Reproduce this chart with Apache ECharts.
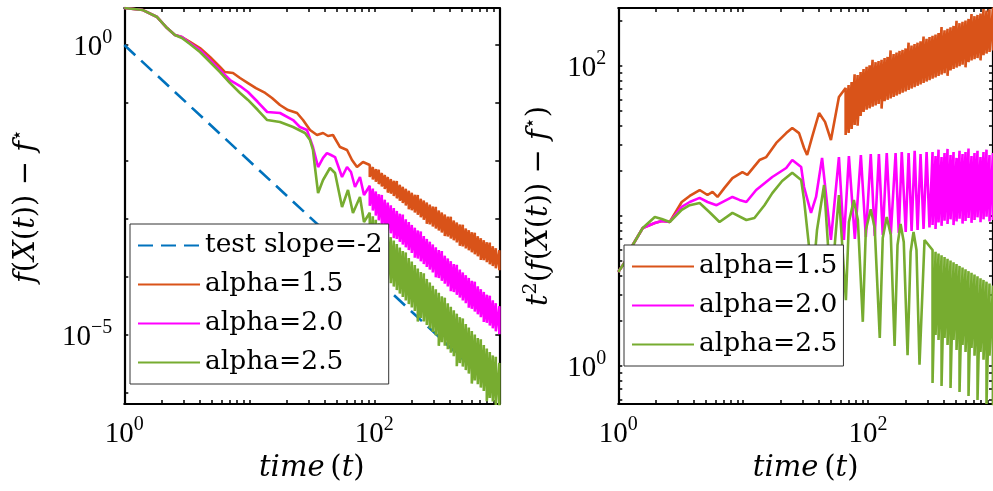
<!DOCTYPE html>
<html>
<head>
<meta charset="utf-8">
<script src="https://cdn.jsdelivr.net/npm/echarts@6/dist/echarts.min.js"></script>
<style>
  html, body { margin: 0; padding: 0; background: #fff; }
  #chart { width: 993px; height: 491px; }
</style>
</head>
<body>
<div id="chart"></div>
<script>
// ---- data -------------------------------------------------------------
// time grid for the fast-oscillating part; at each time the curve is stored
// as the highest and lowest value reached around that instant
const timeTail = [66.1, 69.8, 73.8, 78.0, 82.4, 87.1, 92.0, 97.3, 102.8, 108.6,
  114.8, 121.3, 128.2, 135.5, 143.2, 151.4, 160.0, 169.0, 178.6, 188.8,
  199.5, 210.9, 222.8, 235.5, 248.9, 263.0, 278.0, 293.8, 310.5, 328.1,
  346.7, 366.4, 387.3, 409.3, 432.5, 457.1, 483.1, 510.5, 539.5, 570.2,
  602.6, 636.8, 673.0, 711.2, 751.6, 794.3, 839.5, 887.2, 937.6, 1000];

// reference line of slope -2
const slopeGuide = [[1, 1], [1000, 1e-6]];

// ---- f(X(t)) - f*  (tails start at timeTail[6]) ----
const gapA15Head = [[1, 4.34], [1.41, 4.01], [1.83, 3.04], [2.20, 1.96], [2.54, 1.49], [2.89, 1.37],
  [3.35, 1.13], [4.03, 0.888], [4.85, 0.621], [5.83, 0.418], [6.39, 0.342], [7.41, 0.329],
  [8.43, 0.270], [9.76, 0.221], [11.3, 0.181], [13.4, 0.149], [15.2, 0.122], [17.6, 0.0924],
  [20.4, 0.0757], [24.1, 0.0673], [26.9, 0.0509], [30.6, 0.0342], [34.8, 0.0281], [38.9, 0.0304],
  [42.6, 0.0270], [46.7, 0.0281], [53.2, 0.0174], [60.5, 0.0155], [66.3, 0.0104], [72.7, 0.00788],
  [81.2, 0.00962]];
const gapA15High = [8.53e-3, 7.88e-3, 7.28e-3, 7.1e-3, 6.23e-3, 5.76e-3, 5.32e-3, 4.91e-3, 4.56e-3, 4.5e-3,
  3.89e-3, 3.59e-3, 3.32e-3, 3.07e-3, 2.84e-3, 2.62e-3, 2.6e-3, 2.24e-3, 2.08e-3, 1.92e-3,
  1.77e-3, 1.64e-3, 1.62e-3, 1.40e-3, 1.29e-3, 1.20e-3, 1.10e-3, 1.09e-3, 9.46e-4, 8.74e-4,
  8.07e-4, 7.95e-4, 6.88e-4, 6.38e-4, 5.90e-4, 5.8e-4, 5.03e-4, 4.65e-4, 4.31e-4, 3.98e-4,
  3.92e-4, 3.40e-4, 3.14e-4, 2.89e-4];
const gapA15Low = [5.30e-3, 4.82e-3, 4.38e-3, 4.00e-3, 3.63e-3, 3.30e-3, 2.85e-3, 2.74e-3, 2.49e-3, 2.27e-3,
  2.07e-3, 1.88e-3, 1.71e-3, 1.47e-3, 1.42e-3, 1.29e-3, 1.18e-3, 1.07e-3, 9.73e-4, 8.3e-4,
  8.07e-4, 7.40e-4, 6.83e-4, 6.33e-4, 5.85e-4, 5.1e-4, 4.99e-4, 4.61e-4, 4.28e-4, 3.95e-4,
  3.45e-4, 3.37e-4, 3.11e-4, 2.89e-4, 2.67e-4, 2.46e-4, 2.27e-4, 1.97e-4, 1.95e-4, 1.80e-4,
  1.66e-4, 1.54e-4, 1.42e-4, 1.30e-4];

const gapA20Head = [[1, 4.34], [1.41, 4.01], [1.83, 3.04], [2.20, 1.96], [2.54, 1.49], [2.89, 1.37],
  [3.35, 1.08], [4.03, 0.82], [4.85, 0.551], [5.83, 0.371], [7.01, 0.249], [8.43, 0.196],
  [9.76, 0.155], [11.7, 0.104], [13.9, 0.0700], [17.6, 0.0673], [22.4, 0.0509], [25.4, 0.0386],
  [28.9, 0.0342], [32.3, 0.0174], [35.5, 0.00788], [38.9, 0.0113], [41.8, 0.0137], [45.0, 0.0127],
  [48.5, 0.0117], [55.2, 0.00530], [60.5, 0.00788], [65.1, 0.00646], [70.1, 0.00356], [76.8, 0.00530],
  [82.7, 0.00259]];
const gapA20High = [3.74e-3, 3.34e-3, 2.99e-3, 2.68e-3, 2.6e-3, 2.15e-3, 1.92e-3, 1.72e-3, 1.54e-3, 1.38e-3,
  1.23e-3, 1.19e-3, 9.87e-4, 8.83e-4, 7.90e-4, 7.07e-4, 6.33e-4, 6.1e-4, 5.07e-4, 4.54e-4,
  4.06e-4, 3.64e-4, 3.25e-4, 2.91e-4, 2.8e-4, 2.33e-4, 2.09e-4, 1.87e-4, 1.67e-4, 1.62e-4,
  1.34e-4, 1.20e-4, 1.07e-4, 9.60e-5, 8.60e-5, 8.3e-5, 6.89e-5, 6.16e-5, 5.52e-5, 4.94e-5,
  4.75e-5, 3.95e-5, 3.54e-5, 3.13e-5];
const gapA20Low = [1.69e-3, 1.40e-3, 1.15e-3, 9.5e-4, 7.89e-4, 7.06e-4, 6.32e-4, 5.65e-4, 4.7e-4, 4.53e-4,
  4.05e-4, 3.63e-4, 3.25e-4, 2.91e-4, 2.60e-4, 2.15e-4, 2.08e-4, 1.86e-4, 1.67e-4, 1.49e-4,
  1.34e-4, 1.20e-4, 9.9e-5, 9.58e-5, 8.57e-5, 7.68e-5, 6.87e-5, 5.7e-5, 5.50e-5, 4.93e-5,
  4.41e-5, 3.94e-5, 3.53e-5, 2.95e-5, 2.83e-5, 2.53e-5, 2.27e-5, 2.03e-5, 1.68e-5, 1.62e-5,
  1.45e-5, 1.30e-5, 1.16e-5, 1.03e-5];

const gapA25Head = [[1, 4.34], [1.41, 4.01], [1.83, 3.04], [2.20, 1.96], [2.54, 1.49], [2.89, 1.32],
  [3.35, 1.04], [4.03, 0.757], [4.85, 0.509], [5.83, 0.342], [7.01, 0.221], [8.43, 0.149],
  [9.76, 0.113], [11.7, 0.0757], [13.9, 0.0509], [17.6, 0.0470], [22.4, 0.0386], [27.9, 0.0304],
  [30.6, 0.0230], [32.3, 0.0155], [33.5, 0.00788], [35.5, 0.00281], [38.9, 0.00470], [44.2, 0.00757],
  [48.5, 0.00621], [55.2, 0.00161], [61.6, 0.00316], [67.5, 0.00127], [76.8, 0.00239], [82.7, 8.87e-4]];
const gapA25High = [1.28e-3, 1.11e-3, 9.70e-4, 8.45e-4, 7.36e-4, 7.0e-4, 5.58e-4, 4.86e-4, 4.24e-4, 3.69e-4,
  3.21e-4, 2.80e-4, 2.65e-4, 2.12e-4, 1.85e-4, 1.61e-4, 1.40e-4, 1.22e-4, 1.16e-4, 9.27e-5,
  8.07e-5, 7.03e-5, 6.12e-5, 5.33e-5, 4.65e-5, 4.4e-5, 3.52e-5, 3.07e-5, 2.67e-5, 2.33e-5,
  2.03e-5, 1.93e-5, 1.54e-5, 1.34e-5, 1.17e-5, 1.02e-5, 8.85e-6, 8.4e-6, 6.71e-6, 5.85e-6,
  5.09e-6, 4.44e-6, 4.2e-6, 3.30e-6];
const gapA25Low = [2.06e-4, 1.79e-4, 1.56e-4, 1.36e-4, 1.18e-4, 1.03e-4, 8.98e-5, 7.82e-5, 6.83e-5, 5.94e-5,
  5.17e-5, 4.51e-5, 3.93e-5, 3.41e-5, 2.98e-5, 2.59e-5, 1.7e-5, 1.96e-5, 1.71e-5, 1.49e-5,
  1.30e-5, 1.13e-5, 9.85e-6, 6.5e-6, 7.49e-6, 6.52e-6, 5.67e-6, 4.94e-6, 4.30e-6, 2.9e-6,
  3.27e-6, 2.85e-6, 2.48e-6, 2.16e-6, 1.45e-6, 1.64e-6, 1.42e-6, 1.24e-6, 1.08e-6, 7.2e-7,
  8.19e-7, 7.15e-7, 6.21e-7, 5.31e-7];

// ---- t^2 (f(X(t)) - f*) ----
// alpha = 1.5 : tail over the whole timeTail
const scaledA15Head = [[1, 4.23], [1.13, 4.93], [1.29, 6.31], [1.57, 8.32], [1.96, 8.98], [2.23, 9.26],
  [2.58, 9.12], [3.22, 12.4], [3.73, 13.6], [4.48, 14.9], [5.18, 13.8], [5.68, 14.5], [6.23, 13.4],
  [7.08, 15.4], [8.20, 17.9], [9.85, 19.6], [10.8, 18.8], [13.5, 23.6], [15.3, 24.7], [18.4, 30.7],
  [22.1, 35.7], [24.7, 38.6], [28.0, 35.7], [30.7, 28.4], [32.5, 25.5], [35.6, 33.6], [40.5, 48.6],
  [45.2, 42.4], [50.4, 32.1], [58.4, 62.1]];
const scaledA15High = [71.3, 74.7, 78.2, 88, 87.1, 91.2, 95.5, 98.9, 101, 110,
  106, 108, 110, 113, 115, 127, 120, 123, 126, 128,
  131, 143, 137, 140, 143, 146, 157, 152, 156, 159,
  162, 166, 182, 173, 177, 181, 185, 200, 193, 197,
  201, 206, 222, 215, 219, 224, 240, 234, 239, 245];
const scaledA15Low = [34.7, 35.8, 38.0, 40.4, 40.0, 46.4, 49.4, 51.1, 52.2, 53.5,
  54.6, 55.8, 52.0, 58.3, 59.5, 60.8, 62.1, 63.5, 64.9, 66.3,
  67.7, 69.2, 70.7, 72.2, 73.8, 75.4, 77.0, 78.7, 80.4, 82.2,
  83.9, 85.8, 87.6, 89.5, 86.0, 93.5, 95.5, 97.6, 99.7, 102,
  98.0, 106, 109, 111, 113, 109, 118, 121, 124, 127];

// alpha = 2.0 and 2.5 : tails start at timeTail[29]
const scaledA20Head = [[1, 4.23], [1.13, 4.93], [1.29, 6.31], [1.57, 8.32], [1.96, 8.98], [2.23, 9.26],
  [2.58, 9.12], [3.22, 11.5], [3.73, 12.4], [4.48, 13.2], [5.18, 12.4], [6.12, 11.8], [8.20, 13.4],
  [9.33, 12.8], [10.6, 12.4], [12.7, 14.9], [17.1, 18.2], [22.1, 20.9], [24.7, 23.6], [29.1, 21.2],
  [30.7, 15.6], [34.9, 10.5], [38.3, 13.4], [42.8, 24.4], [50.4, 6.92], [58.4, 24.7], [64.0, 6.92],
  [70.2, 25.1], [78.3, 7.03], [87.5, 25.5], [95.9, 7.24], [105, 25.9], [113, 7.36], [122, 25.9],
  [131, 7.47], [141, 26.3], [152, 7.59], [166, 26.3], [176, 7.70], [186, 26.7], [200, 7.82],
  [211, 26.3], [223, 7.94], [236, 27.2], [249, 8.07], [263, 25.9], [278, 8.20], [294, 26.7], [310, 8.40]];
const scaledA20High = [26.7, 25.1, 27.7, 24.7, 26.3, 28.0, 25.5, 26.7, 24.4, 27.2, 25.9,
  26.7, 28.2, 25.1, 26.3, 27.2, 24.7, 26.7, 27.7, 25.5, 26.3];
const scaledA20Low = [8.71, 8.20, 9.05, 8.60, 9.30, 8.85, 9.50, 8.70, 9.20, 9.60, 8.90,
  9.26, 9.70, 9.00, 9.40, 9.80, 9.10, 9.50, 9.90, 9.20, 9.40];

const scaledA25Head = [[1, 4.23], [1.13, 4.93], [1.29, 6.31], [1.57, 8.32], [1.96, 9.84], [2.23, 9.55],
  [2.58, 9.12], [3.22, 11.0], [3.73, 11.8], [4.48, 12.2], [5.38, 10.6], [6.46, 9.12], [8.20, 10.5],
  [10.6, 9.40], [12.3, 9.70], [14.8, 11.8], [17.1, 14.2], [20.5, 17.1], [24.7, 19.4], [29.1, 17.4],
  [30.7, 12.8], [33.7, 6.21], [36.3, 4.04], [39.0, 8.07], [44.4, 16.1], [50.4, 3.21], [58.4, 13.8],
  [66.4, 2.75], [70.2, 9.12], [76.9, 12.8], [82.8, 9.40], [90.7, 1.97], [95.9, 8.07], [105, 11.1],
  [113, 8.32], [124, 1.54], [131, 7.13], [141, 9.84], [152, 7.47], [163, 1.36], [172, 6.41],
  [182, 8.85], [193, 6.71], [207, 1.18], [219, 5.75], [231, 7.82], [244, 5.93], [258, 1.02], [283, 6.92]];
const scaledA25High = [5.93, 5.77, 5.62, 5.47, 5.33, 5.18, 5.05, 4.91, 4.79, 4.65, 4.53,
  4.41, 4.29, 4.18, 4.07, 3.96, 3.85, 3.75, 3.65, 3.55, 3.44];
const scaledA25Low = [0.770, 1.61, 1.49, 0.736, 1.54, 1.38, 0.713, 1.49, 1.28, 0.671, 1.38,
  1.24, 0.631, 1.32, 1.17, 0.593, 1.24, 1.10, 0.558, 1.17, 0.541];

// axis ticks and labels
const timeTicks = [1, 2, 3, 4, 5, 6, 7, 8, 9, 10, 20, 30, 40, 50, 60, 70, 80, 90,
  100, 200, 300, 400, 500, 600, 700, 800, 900, 1000];
const timeLabels = [1, 100];
const gapTicks = [1e-6, 1e-5, 1e-4, 1e-3, 1e-2, 1e-1, 1];
const gapLabels = [1e-5, 1];
const scaledTicks = [0.6, 0.7, 0.8, 0.9, 1, 2, 3, 4, 5, 6, 7, 8, 9, 10, 20, 30, 40, 50, 60, 70, 80, 90, 100, 200];
const scaledLabels = [1, 100];

const seriesNames = ['test slope=-2', 'alpha=1.5', 'alpha=2.0', 'alpha=2.5'];
const seriesColors = ['#0072BD', '#D95319', '#FF00FF', '#77AC30'];

// ---- helpers ----------------------------------------------------------
// early samples followed by a high/low pair at every tail time
function withBand(head, times, high, low) {
  const pts = head.slice();
  times.forEach((t, i) => { pts.push([t, high[i]], [t, low[i]]); });
  return pts;
}

const SERIF = "'Liberation Serif', 'DejaVu Serif', serif";
const TITLE_FONT = "'DejaVu Serif', serif";

function powerLabel(v) {
  const e = Math.round(Math.log10(v));
  return '{b|10}{s|' + (e < 0 ? '\u2212' + (-e) : String(e)) + '}';
}
const tickRich = {
  b: { fontFamily: SERIF, fontSize: 29, color: '#000', lineHeight: 34, verticalAlign: 'bottom' },
  s: { fontFamily: SERIF, fontSize: 20, color: '#000', lineHeight: 20, verticalAlign: 'top' }
};
const nameRich = {
  i: { fontFamily: TITLE_FONT, fontStyle: 'italic', fontSize: 29, color: '#000', lineHeight: 36 },
  n: { fontFamily: TITLE_FONT, fontSize: 29, color: '#000', lineHeight: 36 },
  s: { fontFamily: TITLE_FONT, fontSize: 19, color: '#000', lineHeight: 20, verticalAlign: 'top' }
};

const tickStyle = (values) => ({
  show: true, inside: true, length: 4,
  lineStyle: { color: '#000', width: 1.5 },
  customValues: values
});
const lineStyleAxis = { show: true, onZero: false, lineStyle: { color: '#000', width: 2.2 } };

function xAxisPair(gridIndex) {
  return [
    {
      type: 'log', logBase: 10, gridIndex, min: 1, max: 1000, position: 'bottom',
      axisLine: lineStyleAxis, axisTick: tickStyle(timeTicks), splitLine: { show: false },
      axisLabel: { customValues: timeLabels, formatter: powerLabel, rich: tickRich, margin: 11 },
      name: '{i|time}{n|\u2009(}{i|t}{n|)}', nameLocation: 'middle', nameGap: 44,
      nameTextStyle: { rich: nameRich }
    },
    {
      type: 'log', logBase: 10, gridIndex, min: 1, max: 1000, position: 'top',
      axisLine: lineStyleAxis, axisTick: tickStyle(timeTicks), splitLine: { show: false },
      axisLabel: { show: false }
    }
  ];
}

function yAxisPair(gridIndex, min, max, ticks, labels, name, gap) {
  return [
    {
      type: 'log', logBase: 10, gridIndex, min, max, position: 'left',
      axisLine: lineStyleAxis, axisTick: tickStyle(ticks), splitLine: { show: false },
      axisLabel: { customValues: labels, formatter: powerLabel, rich: tickRich, margin: 12 },
      name, nameLocation: 'middle', nameRotate: 90, nameGap: gap, nameMoveOverlap: false,
      nameTextStyle: { rich: nameRich }
    },
    {
      type: 'log', logBase: 10, gridIndex, min, max, position: 'right',
      axisLine: lineStyleAxis, axisTick: tickStyle(ticks), splitLine: { show: false },
      axisLabel: { show: false }
    }
  ];
}

function curve(name, color, xIdx, yIdx, data, dashed) {
  return {
    type: 'line', name, xAxisIndex: xIdx, yAxisIndex: yIdx, data,
    symbol: 'none', showSymbol: false, clip: true, silent: true,
    lineStyle: { color, width: 2.6, type: dashed ? [15, 8] : 'solid' },
    itemStyle: { color }
  };
}

const legendBase = {
  orient: 'vertical', itemWidth: 62, itemHeight: 14, itemGap: 0,
  borderColor: '#333', borderWidth: 1, backgroundColor: '#fff', selectedMode: false,
  itemStyle: { color: 'rgba(0,0,0,0)', borderWidth: 0, opacity: 0 },
  textStyle: { fontFamily: TITLE_FONT, fontSize: 26.5, color: '#000', lineHeight: 39 }
};

// ---- chart ------------------------------------------------------------
const leftTimes = timeTail.slice(6);
const rightTimes = timeTail.slice(29);

const chart = echarts.init(document.getElementById('chart'), null, { renderer: 'canvas' });
chart.setOption({
  animation: false,
  backgroundColor: '#fff',
  grid: [
    { left: 124.3, top: 8, width: 375, height: 396 },
    { left: 618.3, top: 8, width: 376.5, height: 396 }
  ],
  xAxis: [...xAxisPair(0), ...xAxisPair(1)],
  yAxis: [
    ...yAxisPair(0, 6.45e-7, 4.35, gapTicks, gapLabels,
      '{i|f}{n|(}{i|X}{n|(}{i|t}{n|)) \u2212 }{i|f}{s|\u22c6}', 80),
    ...yAxisPair(1, 0.558, 243.6, scaledTicks, scaledLabels,
      '{i|t}{s|2}{n|(}{i|f}{n|(}{i|X}{n|(}{i|t}{n|)) \u2212 }{i|f}{s|\u22c6}{n|)}', 61)
  ],
  legend: [
    Object.assign({}, legendBase, {
      data: seriesNames, left: 130, top: 224, padding: [2, 6, 2, 7]
    }),
    Object.assign({}, legendBase, {
      data: seriesNames.slice(1), left: 624, top: 245, padding: [2, 6, 2, 7]
    })
  ],
  series: [
    curve(seriesNames[0], seriesColors[0], 0, 0, slopeGuide, true),
    curve(seriesNames[1], seriesColors[1], 0, 0, withBand(gapA15Head, leftTimes, gapA15High, gapA15Low)),
    curve(seriesNames[2], seriesColors[2], 0, 0, withBand(gapA20Head, leftTimes, gapA20High, gapA20Low)),
    curve(seriesNames[3], seriesColors[3], 0, 0, withBand(gapA25Head, leftTimes, gapA25High, gapA25Low)),
    curve(seriesNames[1], seriesColors[1], 2, 2, withBand(scaledA15Head, timeTail, scaledA15High, scaledA15Low)),
    curve(seriesNames[2], seriesColors[2], 2, 2, withBand(scaledA20Head, rightTimes, scaledA20High, scaledA20Low)),
    curve(seriesNames[3], seriesColors[3], 2, 2, withBand(scaledA25Head, rightTimes, scaledA25High, scaledA25Low))
  ]
});
</script>
</body>
</html>
